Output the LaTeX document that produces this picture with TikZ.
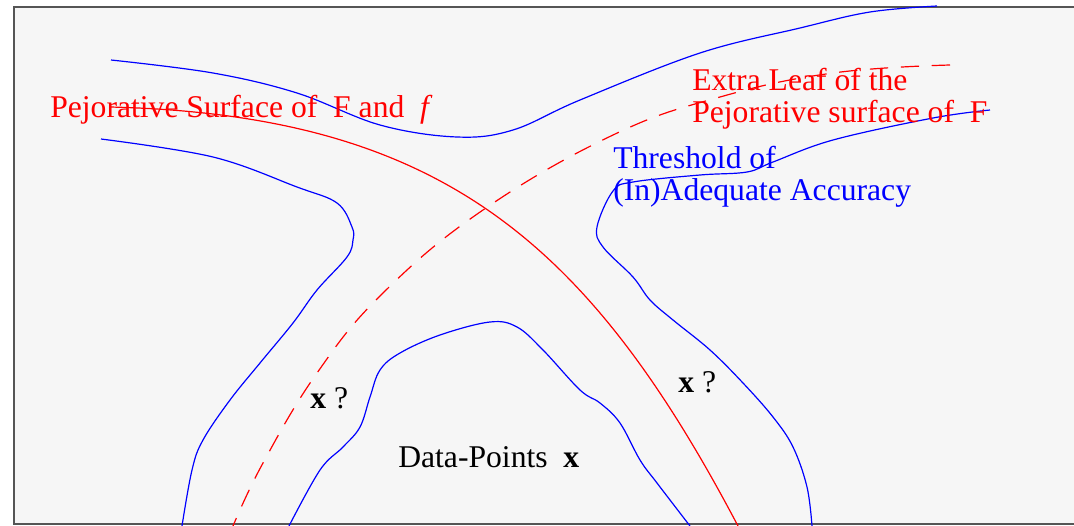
\documentclass[tikz,border=0pt]{standalone}
\usepackage{fontspec}
\setmainfont{Liberation Serif}
\usetikzlibrary{positioning}
\definecolor{bggray}{HTML}{F6F6F6}
\definecolor{framegray}{HTML}{555555}
\definecolor{surfred}{HTML}{FF0000}
\definecolor{levelblue}{HTML}{0000FF}
\tikzset{
  level/.style={draw=levelblue, line width=0.85pt, smooth, tension=0.6},
  surf/.style={draw=surfred, line width=0.85pt, smooth, tension=0.7},
  leaf/.style={surf, dash pattern=on 13pt off 9pt},
  lbl/.style={anchor=base west, inner sep=0pt, font=\fontsize{22.5}{25}\selectfont},
  redlbl/.style={lbl, text=surfred},
  bluelbl/.style={lbl, text=levelblue},
}

\begin{document}
\begin{tikzpicture}[x=0.025cm, y=-0.025cm]
  \useasboundingbox (0,0) rectangle (1074,526);
  \clip (0,0) rectangle (1074,526);
  \draw[framegray, line width=1.2pt, fill=bggray] (14,7) rectangle (1090,524);

  % level sets of accuracy
  \draw[level] plot coordinates {(111,60) (213,73) (297,93) (380,125) (457,137)
    (513,130) (580,100) (700,53) (800,28) (870,12) (937,6)};
  \draw[level] plot coordinates {(101,139) (213,157) (297,187) (337,203) (352,227)
    (353,240) (347,257) (317,290) (293,323) (260,363) (230,400) (203,440)
    (192,470) (182,526)};
  \draw[level] plot coordinates {(289,526) (320,470) (343,447) (360,427) (370,397)
    (380,370) (400,353) (440,335) (490,322) (517,327) (543,350) (580,390)
    (600,403) (620,423) (640,460) (657,483) (690,526)};
  \draw[level] plot coordinates {(990,110) (933,118) (833,140) (773,162) (747,172)
    (700,175) (633,182) (613,191) (597,227) (603,247) (633,277) (650,300)
    (673,320) (710,350) (743,383) (773,417) (793,447) (807,487) (812,526)};

  % pejorative surfaces
  \draw[surf] (110,107) .. controls (440,115) and (588,241) .. (738,526);
  \draw[leaf] plot coordinates {(950,65) (833,73) (720,97) (613,135) (483,210)
    (383,293) (317,373) (263,463) (233,526)};

  \node[redlbl] (surfF) at (50,117) {Pejorative Surface of~~F and~~\textit{f}};
  \node[redlbl] (leafA) at (692,90) {Extra Leaf of the};
  \node[redlbl] (leafB) at (692,122) {Pejorative surface of~~F};
  \node[bluelbl] (thrA) at (613,168) {Threshold of};
  \node[bluelbl] (thrB) at (613,200) {(In)Adequate Accuracy};
  \node[lbl] (qleft) at (310,408) {\textbf{x}~?};
  \node[lbl] (qright) at (678,392) {\textbf{x}~?};
  \node[lbl] (data) at (398,467) {Data-Points~~\textbf{x}};
\end{tikzpicture}
\end{document}
